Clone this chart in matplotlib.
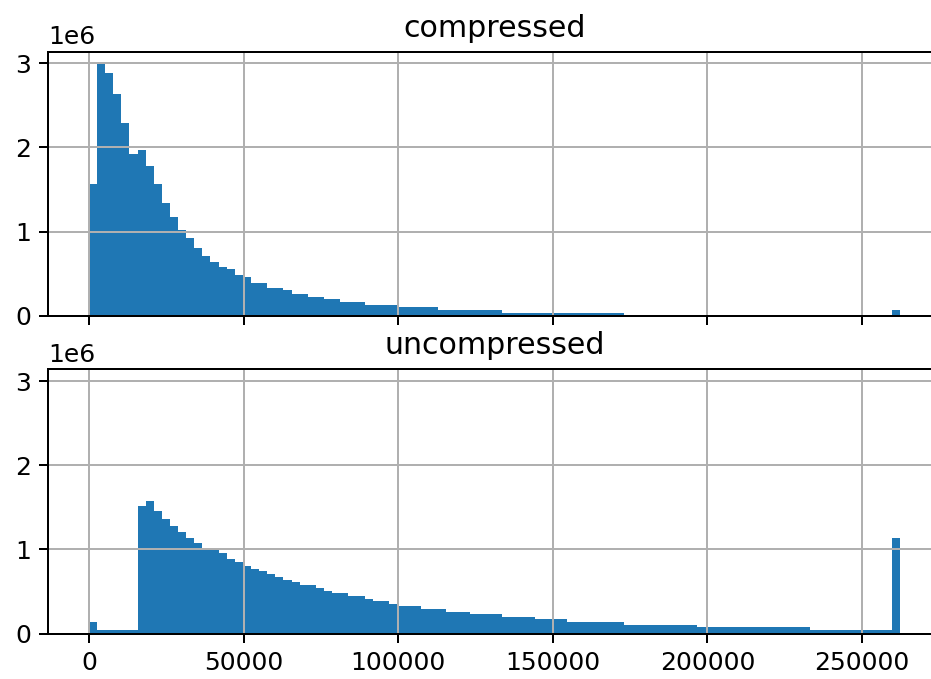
import numpy as np
import matplotlib
matplotlib.use("Agg")
import matplotlib.pyplot as plt

# ── Data: histogram counts (100 equal bins, 0 .. 262144) ──
X_MAX = 262144
N_BINS = 100

compressed = (
    [1.56e6, 2.99e6, 2.89e6, 2.64e6, 2.29e6, 1.92e6, 1.97e6, 1.78e6, 1.56e6, 1.34e6,
     1.17e6, 1.02e6, 0.925e6, 0.81e6, 0.71e6, 0.64e6, 0.58e6, 0.55e6, 0.49e6, 0.46e6,
     0.39e6, 0.39e6, 0.325e6, 0.325e6, 0.30e6, 0.26e6, 0.26e6, 0.225e6, 0.225e6, 0.195e6,
     0.195e6, 0.166e6, 0.166e6, 0.166e6, 0.133e6, 0.133e6, 0.133e6, 0.133e6, 0.10e6, 0.10e6,
     0.10e6, 0.10e6, 0.10e6, 0.068e6, 0.068e6, 0.068e6, 0.068e6, 0.068e6, 0.068e6, 0.068e6,
     0.068e6, 0.036e6, 0.036e6, 0.036e6, 0.036e6, 0.036e6, 0.036e6, 0.036e6, 0.036e6, 0.036e6,
     0.036e6, 0.036e6, 0.036e6, 0.036e6, 0.036e6, 0.036e6]
    + [0] * 33
    + [0.07e6]
)

uncompressed = [
    0.135e6, 0.045e6, 0.045e6, 0.045e6, 0.045e6, 0.045e6, 1.52e6, 1.58e6, 1.46e6, 1.36e6,
    1.28e6, 1.21e6, 1.14e6, 1.075e6, 1.01e6, 0.99e6, 0.96e6, 0.89e6, 0.855e6, 0.80e6,
    0.77e6, 0.74e6, 0.705e6, 0.67e6, 0.64e6, 0.61e6, 0.575e6, 0.575e6, 0.545e6, 0.51e6,
    0.48e6, 0.48e6, 0.445e6, 0.445e6, 0.415e6, 0.385e6, 0.385e6, 0.355e6, 0.33e6, 0.33e6,
    0.33e6, 0.295e6, 0.295e6, 0.295e6, 0.26e6, 0.26e6, 0.26e6, 0.23e6, 0.23e6, 0.23e6,
    0.23e6, 0.20e6, 0.20e6, 0.20e6, 0.20e6, 0.17e6, 0.17e6, 0.17e6, 0.17e6, 0.14e6,
    0.14e6, 0.14e6, 0.14e6, 0.14e6, 0.14e6, 0.14e6, 0.105e6, 0.105e6, 0.105e6, 0.105e6,
    0.105e6, 0.105e6, 0.105e6, 0.105e6, 0.105e6, 0.077e6, 0.077e6, 0.077e6, 0.077e6, 0.077e6,
    0.077e6, 0.077e6, 0.077e6, 0.077e6, 0.077e6, 0.077e6, 0.077e6, 0.077e6, 0.077e6, 0.045e6,
    0.045e6, 0.045e6, 0.045e6, 0.045e6, 0.045e6, 0.045e6, 0.045e6, 0.045e6, 0.045e6, 1.14e6,
]

titles = ["compressed", "uncompressed"]
series = [compressed, uncompressed]

# ── Figure ──
DPI = 180
fig = plt.figure(figsize=(931 / DPI, 679 / DPI), dpi=DPI)

edges = np.linspace(0, X_MAX, N_BINS + 1)
centers = (edges[:-1] + edges[1:]) / 2

# axes run a little past the right edge of the canvas (right spine is cut off)
ax_top = fig.add_axes([0.0519, 0.535, 0.958, 0.389])
ax_bot = fig.add_axes([0.0519, 0.0667, 0.958, 0.3894], sharex=ax_top, sharey=ax_top)

for ax, title, counts in zip([ax_top, ax_bot], titles, series):
    ax.hist(centers, bins=edges, weights=counts, histtype="stepfilled",
            color="#1f77b4", linewidth=0)
    ax.set_title(title)
    ax.grid(True)

ax_top.tick_params(labelbottom=False)
ax_top.set_yticks([0, 1e6, 2e6, 3e6])

fig.savefig("out.png", dpi=DPI)
